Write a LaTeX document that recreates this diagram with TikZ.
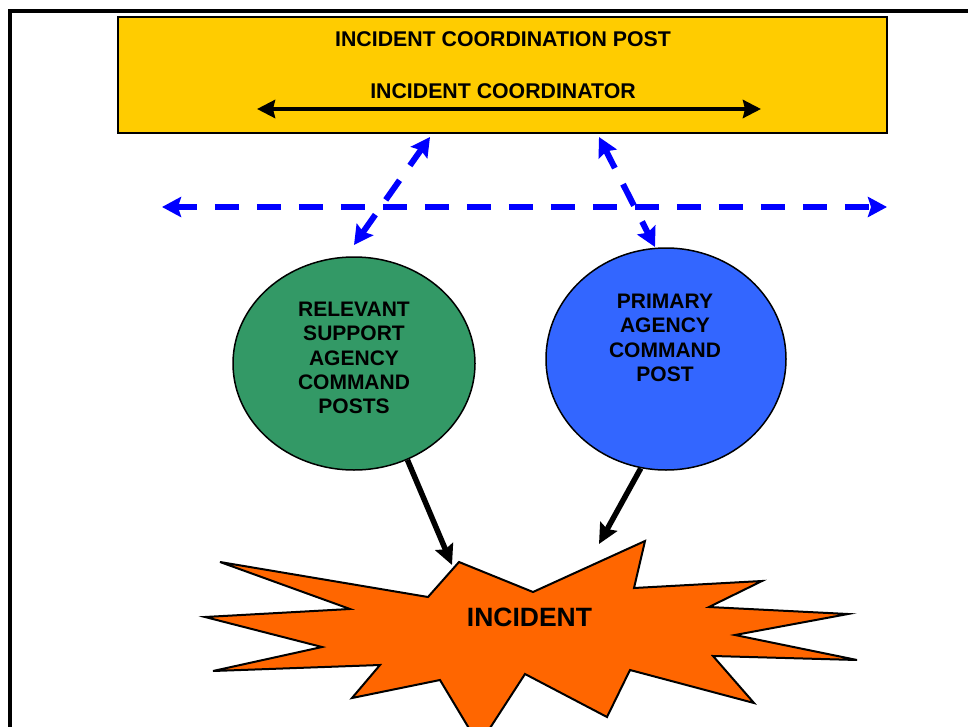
\documentclass[tikz,border=0pt]{standalone}
\usepackage{fontspec}
\setmainfont{Liberation Sans}
\usetikzlibrary{arrows.meta,shapes.geometric}

\definecolor{postyellow}{HTML}{FFCC00}
\definecolor{supportgreen}{HTML}{339966}
\definecolor{primaryblue}{HTML}{3366FF}
\definecolor{burstorange}{HTML}{FF6600}
\definecolor{linkblue}{HTML}{0000FF}

\begin{document}
\begin{tikzpicture}[x=1pt,y=-1pt,
  frameline/.style={draw=black,line width=4.5pt},
  postbox/.style={rectangle,draw=black,line width=2pt,fill=postyellow,
    minimum width=769pt,minimum height=116pt,inner sep=0pt},
  boxtext/.style={inner sep=0pt,font=\fontsize{21.3}{24.3}\selectfont\bfseries},
  cmdpost/.style={ellipse,draw=black,line width=1.5pt,inner sep=0pt},
  posttext/.style={inner sep=0pt,align=center,
    font=\fontsize{21}{24.4}\selectfont\bfseries},
  twoway/.style={draw=black,line width=4.5pt,
    {Stealth[length=18pt,width=18pt,inset=2pt]}-{Stealth[length=18pt,width=18pt,inset=2pt]}},
  bluedash/.style={draw=linkblue,line width=6pt,dash pattern=on 24pt off 18pt,dash phase=4pt,
    {Stealth[length=19pt,width=20pt,inset=3pt]}-{Stealth[length=19pt,width=20pt,inset=3pt]}},
  command/.style={draw=black,line width=5.5pt,-{Stealth[length=20pt,width=19pt,inset=3pt]}},
  burst/.style={draw=black,line width=2pt,fill=burstorange,line join=miter},
  bursttext/.style={inner sep=0pt,font=\fontsize{26.5}{30}\selectfont\bfseries}
]
\useasboundingbox (0,0) rectangle (968,727);
\clip (0,0) rectangle (968,727);
\fill[white] (0,0) rectangle (968,727);

% outer frame, running past the right and bottom edges
\draw[frameline] (10,11) rectangle (1000,760);

% coordination post
\node[postbox] (post) at (502.5,75) {};
\node[boxtext] (posttitle) at (503,39.5) {INCIDENT COORDINATION POST};
\node[boxtext] (coordinator) at (503,91) {INCIDENT COORDINATOR};
\coordinate (coordleft) at (257,109);
\coordinate (coordright) at (761,109);
\draw[twoway] (coordleft) -- (coordright);

% command posts
\node[cmdpost,fill=supportgreen,minimum width=242pt,minimum height=213pt] (support) at (354,363.5) {};
\node[posttext] (supporttext) at (354,358) {RELEVANT\\SUPPORT\\AGENCY\\COMMAND\\POSTS};
\node[cmdpost,fill=primaryblue,minimum width=240pt,minimum height=222pt] (primary) at (666,359) {};
\node[posttext] (primarytext) at (665,338) {PRIMARY\\AGENCY\\COMMAND\\POST};

% liaison links
\coordinate (liaisonleft) at (162,207);
\coordinate (liaisonright) at (887,207);
\coordinate (supportup) at (430,137);
\coordinate (supportdown) at (354,245);
\coordinate (primaryup) at (599,137);
\coordinate (primarydown) at (655,247);
\draw[bluedash] (liaisonleft) -- (liaisonright);
\draw[bluedash] (supportup) -- (supportdown);
\draw[bluedash] (primaryup) -- (primarydown);

% incident burst
\draw[burst] (220,562) -- (428,597) -- (459,562) -- (533,592) -- (645,541) -- (634,588)
  -- (762,581) -- (709,607) -- (848,614) -- (735,635) -- (857,660) -- (713,656)
  -- (754,703) -- (630,670) -- (607,717) -- (525,674) -- (479,745) -- (440,680)
  -- (352,698) -- (380,665) -- (213,671) -- (322,647) -- (205,617) -- (350,609) -- cycle;
\node[bursttext] (incident) at (529.5,617.5) {INCIDENT};

% command lines to the incident
\coordinate (supporthit) at (452,565);
\coordinate (primaryhit) at (599,544);
\draw[command] (support.-61) -- (supporthit);
\draw[command] (primary.-103) -- (primaryhit);
\end{tikzpicture}
\end{document}
